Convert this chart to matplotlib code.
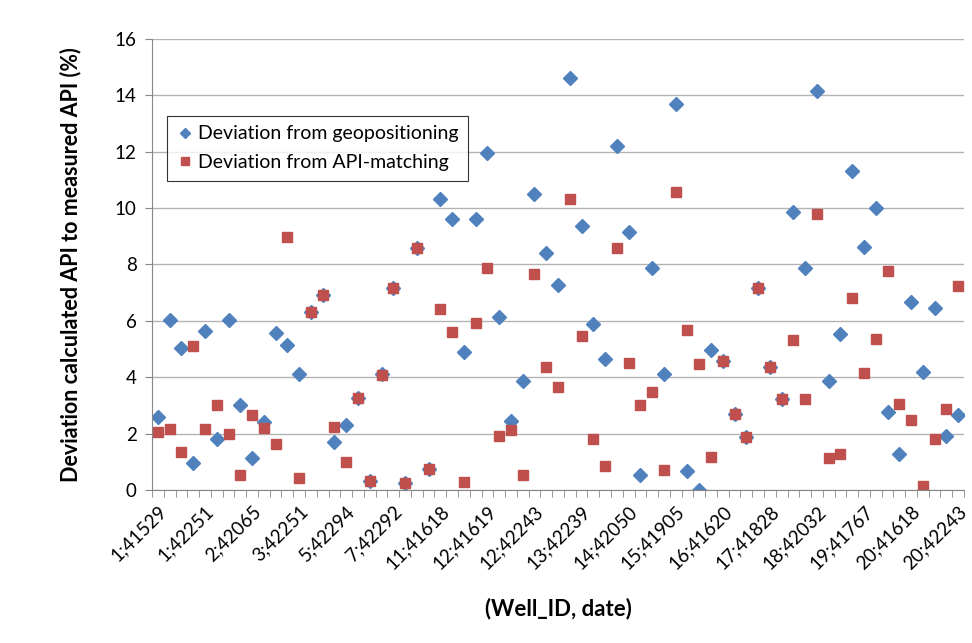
import numpy as np
import matplotlib.pyplot as plt

plt.rcParams['font.family'] = ['Lato', 'DejaVu Sans']

# deviation (%) per (Well_ID, date) sample, 69 samples
geo = [2.58, 6.04, 5.05, 0.95, 5.64, 1.80, 6.04, 3.03, 1.15, 2.41,
       5.56, 5.15, 4.13, 6.32, 6.90, 1.69, 2.31, 3.27, 0.33, 4.10,
       7.15, 0.24, 8.58, 0.73, 10.32, 9.60, 4.91, 9.61, 11.94, 6.13,
       2.43, 3.86, 10.51, 8.40, 7.27, 14.63, 9.37, 5.89, 4.64, 12.19,
       9.15, 0.53, 7.87, 4.12, 13.70, 0.67, 0.00, 4.95, 4.58, 2.70,
       1.89, 7.17, 4.38, 3.22, 9.85, 7.86, 14.17, 3.85, 5.54, 11.33,
       8.62, 9.99, 2.76, 1.28, 6.66, 4.19, 6.45, 1.93, 2.66]
api = [2.05, 2.17, 1.33, 5.11, 2.17, 3.00, 1.99, 0.52, 2.65, 2.19,
       1.62, 8.98, 0.43, 6.32, 6.90, 2.22, 0.99, 3.27, 0.33, 4.09,
       7.15, 0.24, 8.58, 0.73, 6.41, 5.61, 0.27, 5.92, 7.86, 1.93,
       2.13, 0.54, 7.66, 4.37, 3.67, 10.32, 5.46, 1.82, 0.86, 8.57,
       4.50, 3.03, 3.49, 0.71, 10.59, 5.68, 4.46, 1.16, 4.58, 2.70,
       1.89, 7.17, 4.38, 3.22, 5.33, 3.22, 9.78, 1.14, 1.29, 6.82,
       4.14, 5.35, 7.77, 3.05, 2.49, 0.14, 1.80, 2.89, 7.25]
# only every 4th sample is labelled on the axis
tick_labels = ['1;41529', '1;42251', '2;42065', '3;42251', '5;42294', '7;42292',
               '11;41618', '12;41619', '12;42243', '13;42239', '14;42050',
               '15;41905', '16;41620', '17;41828', '18;42032', '19;41767',
               '20;41618', '20;42243']

x = np.arange(len(geo))

fig = plt.figure(figsize=(9.72, 6.43), dpi=100)
ax = fig.add_axes([0.1564, 0.238, 0.8354, 0.7013])

ax.plot(x, geo, 'D', color='#4F81BD', markersize=6.8, linestyle='none',
        label='Deviation from geopositioning')
ax.plot(x, api, 's', color='#C0504D', markersize=7.8, linestyle='none',
        label='Deviation from API-matching')

ax.set_xlim(-0.5, len(geo) - 0.5)
ax.set_ylim(0, 16)
ax.set_yticks(range(0, 17, 2))
ax.yaxis.grid(True, color='#B3B3B3', linewidth=1)
ax.set_axisbelow(True)

ax.set_xticks(x[::4])
ax.set_xticklabels(tick_labels, rotation=45, ha='right', rotation_mode='anchor',
                   fontsize=13.5)
ax.set_xticks(np.arange(-0.5, len(geo), 1), minor=True)
ax.tick_params(axis='x', which='major', length=0, pad=9)
ax.tick_params(axis='x', which='minor', length=5, color='#868686', direction='out')
ax.tick_params(axis='y', length=5, color='#868686', labelsize=13.5, pad=6)

for side in ['top', 'right']:
    ax.spines[side].set_visible(False)
for side in ['left', 'bottom']:
    ax.spines[side].set_color('#868686')

ax.set_ylabel('Deviation calculated API to measured API (%)', fontsize=15.5,
              fontweight='bold', labelpad=24)
ax.set_xlabel('(Well_ID, date)', fontsize=16, fontweight='bold', labelpad=18)

leg = ax.legend(loc='upper left', bbox_to_anchor=(0.018, 0.83), fontsize=14,
                frameon=True, fancybox=False, edgecolor='black', handletextpad=0.2,
                borderpad=0.5, labelspacing=0.6, handlelength=0.9,
                markerscale=0.8, borderaxespad=0)
leg.get_frame().set_linewidth(0.8)

fig.savefig('out.png', dpi=100)
plt.close('all')
